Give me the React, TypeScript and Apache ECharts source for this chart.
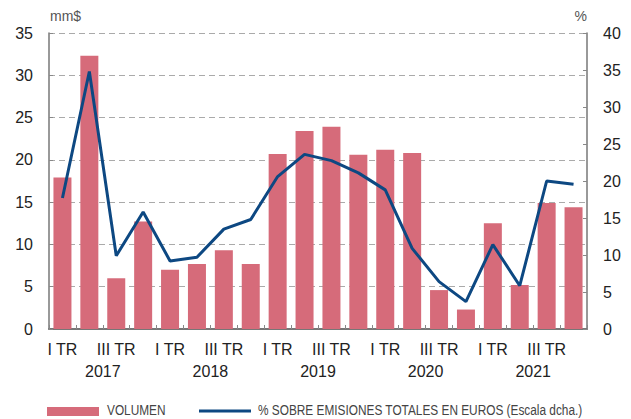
import React, { useEffect, useRef } from "react";
import * as echarts from "echarts";

const quarters = [
  "I TR", "II TR", "III TR", "IV TR",
  "I TR", "II TR", "III TR", "IV TR",
  "I TR", "II TR", "III TR", "IV TR",
  "I TR", "II TR", "III TR", "IV TR",
  "I TR", "II TR", "III TR", "IV TR",
];
const years = ["2017", "2018", "2019", "2020", "2021"];
const volumen = [
  17.9, 32.3, 6.0, 12.7,
  7.0, 7.7, 9.3, 7.7,
  20.7, 23.4, 23.9, 20.6,
  21.2, 20.8, 4.6, 2.3,
  12.5, 5.2, 14.9, 14.4,
];
const porcentaje = [
  17.7, 34.8, 9.9, 15.8,
  9.2, 9.7, 13.5, 14.8,
  20.6, 23.6, 22.75, 21.1,
  18.8, 10.9, 6.4, 3.7,
  11.4, 5.85, 20.0, 19.55,
];
const legendNames = ["VOLUMEN", "% SOBRE EMISIONES TOTALES EN EUROS (Escala dcha.)"];

const BAR = "#d66b7a";
const LINE = "#0d4882";
const FONT = "'Liberation Sans', Arial, Helvetica, sans-serif";

export default function App() {
  const ref = useRef<HTMLDivElement>(null);
  useEffect(() => {
    if (!ref.current) return;
    const chart = echarts.init(ref.current, undefined, { renderer: "svg" });
    const legendText = { fontFamily: FONT, fontSize: 15, fill: "#444", textVerticalAlign: "middle" };
    chart.setOption({
      animation: false,
      grid: { left: 49, right: 44, top: 33, bottom: 90, containLabel: false },
      graphic: [
        { type: "rect", left: 47, top: 407, shape: { width: 52, height: 9 }, style: { fill: BAR } },
        { type: "text", x: 107, y: 410.5, scaleX: 0.79, style: { ...legendText, text: legendNames[0] } },
        { type: "line", shape: { x1: 199, y1: 411, x2: 251, y2: 411 }, style: { stroke: LINE, lineWidth: 3 } },
        { type: "text", x: 258, y: 410.5, scaleX: 0.79, style: { ...legendText, text: legendNames[1] } },
      ],
      xAxis: [
        {
          type: "category",
          data: quarters,
          position: "bottom",
          axisLine: { lineStyle: { color: "#777", width: 2 } },
          axisTick: { show: true, inside: true, length: 4, interval: 0, lineStyle: { color: "#888" } },
          axisLabel: { interval: 1, margin: 12, fontFamily: FONT, fontSize: 16, color: "#222" },
        },
        {
          type: "category",
          data: years,
          position: "bottom",
          axisLine: { show: false },
          axisTick: { show: false },
          axisLabel: { margin: 34, fontFamily: FONT, fontSize: 16, color: "#222" },
        },
      ],
      yAxis: [
        {
          type: "value",
          min: 0,
          max: 35,
          interval: 5,
          name: "mm$",
          nameLocation: "end",
          nameGap: 10,
          nameTextStyle: { align: "left", fontFamily: FONT, fontSize: 14, color: "#555", padding: [0, 0, 0, 1] },
          axisLine: { show: true, lineStyle: { color: "#777", width: 1.5 } },
          axisTick: { show: true, inside: true, length: 4, lineStyle: { color: "#888" } },
          axisLabel: { margin: 16, fontFamily: FONT, fontSize: 16, color: "#222" },
          splitLine: { show: true, lineStyle: { color: "#aaa", type: [6, 4], width: 1 } },
        },
        {
          type: "value",
          min: 0,
          max: 40,
          interval: 5,
          name: "%",
          nameLocation: "end",
          nameGap: 10,
          nameTextStyle: { align: "right", fontFamily: FONT, fontSize: 14, color: "#555" },
          axisLine: { show: true, lineStyle: { color: "#777", width: 1.5 } },
          axisTick: { show: true, inside: true, length: 4, lineStyle: { color: "#888" } },
          axisLabel: { margin: 16, fontFamily: FONT, fontSize: 16, color: "#222" },
          splitLine: { show: false },
        },
      ],
      series: [
        {
          name: legendNames[0],
          type: "bar",
          data: volumen,
          xAxisIndex: 0,
          yAxisIndex: 0,
          barWidth: 18,
          itemStyle: { color: BAR },
        },
        {
          name: legendNames[1],
          type: "line",
          data: porcentaje,
          xAxisIndex: 0,
          yAxisIndex: 1,
          symbol: "none",
          lineStyle: { color: LINE, width: 3 },
          itemStyle: { color: LINE },
        },
      ],
    });
    return () => chart.dispose();
  }, []);
  return (
    <div
      ref={ref}
      style={{ position: "absolute", left: 0, top: 0, width: 631, height: 419 }}
    />
  );
}
